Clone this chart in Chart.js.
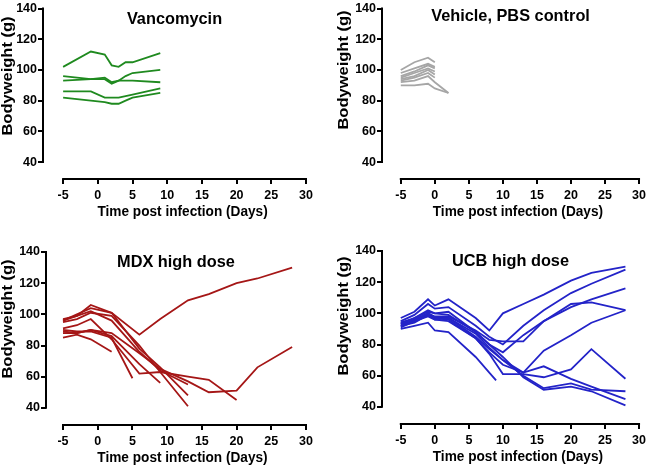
<!DOCTYPE html>
<html>
<head>
<meta charset="utf-8">
<script src="https://cdn.jsdelivr.net/npm/chart.js@4"></script>
<style>
  html, body { margin: 0; padding: 0; background: #fff; }
  #wrap { position: relative; width: 650px; height: 466px; }
  .panel { position: absolute; width: 325px; height: 233px; }
</style>
</head>
<body>
<div id="wrap">
  <div class="panel" style="left:0;top:0"><canvas id="c1" width="325" height="233"></canvas></div>
  <div class="panel" style="left:325px;top:0"><canvas id="c2" width="325" height="233"></canvas></div>
  <div class="panel" style="left:0;top:233px"><canvas id="c3" width="325" height="233"></canvas></div>
  <div class="panel" style="left:325px;top:233px"><canvas id="c4" width="325" height="233"></canvas></div>
</div>
<script>
const xTicks = [-5, 0, 5, 10, 15, 20, 25, 30];
const yTicks = [40, 60, 80, 100, 120, 140];

// Vancomycin group
const vancoDays = [-5, -1, 1, 2, 3, 4, 5, 9];
const vanco = [
  [102, 112, 110, 103, 102, 105, 105, 111],
  [96, 94, 94, 91, 93, 96, 98, 100],
  [93, 94, 95, 92, 93, 93, 93, 92],
  [86, 86, 82, 82, 82, 83, 84, 88],
  [82, 80, 79, 78, 78, 80, 82, 85]
];

// Vehicle, PBS control
const vehDays = [-5, -3, -1, 0, 2];
const vehicle = [
  [100, 105, 108, 105],
  [98, 101, 104, 102],
  [96, 99, 103, 101],
  [95, 98, 101, 99],
  [94, 96, 100, 97],
  [93, 95, 98, 95],
  [92, 93, 96, 92, 85],
  [90, 90, 91, 88, 85]
];

// MDX high dose
const mdxDays = [-5, -3, -1, 2, 5, 6, 9, 13, 16, 20, 23, 28];
const mdx = [
  [96, 99, 106, 101, null, 87, 97, 109, 113, 120, 123, 130],
  [89, 88, 90, 88, null, 75, 65, 57, 50, 51, 66, 79],
  [91, 93, 97, 84, null, 62, 63, 60, 58, 45],
  [95, 97, 101, 99, null, 80, 63, 41],
  [96, 100, 104, 101, null, 78, 66, 48],
  [97, 99, 102, 96, null, 76, 64, 55],
  [88, 88, 90, 86, null, 68, 56],
  [90, 89, 89, 85, 59],
  [85, 87, 84, 76]
];

// UCB high dose
const ucbDays = [-5, -3, -1, 0, 2, 6, 8, 9, 10, 13, 16, 20, 23, 28];
const ucb = [
  [97, 101, 109, 105, 109, 97, 89, null, 100, 106, 112, 121, 126, 130],
  [95, 99, 106, 103, 104, 92, 85, null, 80, 92, 102, 113, 119, 128],
  [93, 97, 101, 100, 101, 88, 80, null, 75, 86, 95, 104, 109, 116],
  [92, 96, 100, 98, 98, 89, 83, null, 82, 82, 95, 106, 107, 102],
  [91, 95, 99, 96, 97, 85, 77, null, 70, 62, 76, 86, 94, 102],
  [94, 96, 100, 97, 96, 84, 74, null, 61, 61, 59, 64, 77, 58],
  [90, 92, 94, 89, 88, 72, 62, 57],
  [93, 95, 98, 96, 95, 84, 75, null, 67, 62, 66, 58, 53, 45],
  [92, 94, 99, 97, 97, 87, 78, null, 70, 60, 52, 55, 51, 50],
  [94, 97, 102, 100, 99, 88, 80, null, 72, 59, 51, 53, 50, 41]
];

Chart.defaults.font.family = "'Liberation Sans', Arial, sans-serif";
Chart.defaults.font.weight = 'bold';
Chart.defaults.font.size = 12.5;
Chart.defaults.color = '#000';

// axes lines and texts drawn prism-style (detached axes)
const panelDecor = {
  id: 'panelDecor',
  afterDraw(chart, args, o) {
    const { ctx, chartArea: a, scales: { x, y } } = chart;
    ctx.save();
    ctx.strokeStyle = '#000';
    ctx.lineWidth = 2;
    ctx.beginPath();
    ctx.moveTo(x.getPixelForValue(-5) - 1, a.bottom);
    ctx.lineTo(x.getPixelForValue(30) + 1, a.bottom);
    ctx.moveTo(a.left, y.getPixelForValue(40) + 1);
    ctx.lineTo(a.left, y.getPixelForValue(140) - 1);
    ctx.stroke();

    ctx.fillStyle = '#000';
    ctx.textAlign = 'center';
    ctx.textBaseline = 'alphabetic';

    // panel title
    ctx.save();
    ctx.translate((a.left + a.right) / 2, o.titleY);
    ctx.scale(0.96, 1);
    ctx.font = "bold 17px 'Liberation Sans', Arial, sans-serif";
    ctx.fillText(o.title, 0, 0);
    ctx.restore();

    // x title
    ctx.save();
    ctx.translate(x.getPixelForValue(12.5) - 2, a.bottom + 36.5);
    ctx.scale(0.88, 1);
    ctx.font = "bold 15.5px 'Liberation Sans', Arial, sans-serif";
    ctx.fillText('Time post infection (Days)', 0, 0);
    ctx.restore();

    // y title
    ctx.save();
    ctx.translate(o.yTitleX, o.yTitleY);
    ctx.scale(0.9, 1);
    ctx.rotate(-Math.PI / 2);
    ctx.textBaseline = 'middle';
    ctx.font = "bold 16.5px 'Liberation Sans', Arial, sans-serif";
    ctx.fillText('Bodyweight (g)', 0, 0);
    ctx.restore();

    ctx.restore();
  }
};

function makePanel(id, days, series, color, L) {
  const datasets = series.map(vals => ({
    data: vals.map((v, i) => ({ x: days[i], y: v })),
    borderColor: color,
    borderWidth: 1.8,
    pointRadius: 0,
    fill: false,
    tension: 0,
    spanGaps: true
  }));
  new Chart(document.getElementById(id), {
    type: 'line',
    data: { datasets },
    plugins: [panelDecor],
    options: {
      responsive: false,
      animation: false,
      devicePixelRatio: 1,
      layout: { padding: { left: 0, right: L.right, top: L.top, bottom: L.bottom } },
      plugins: {
        legend: { display: false },
        tooltip: { enabled: false },
        panelDecor: { title: L.title, titleY: L.titleY, yTitleX: L.yTitleX, yTitleY: L.yTitleY }
      },
      scales: {
        x: {
          type: 'linear',
          min: L.xMin,
          max: 30,
          afterBuildTicks: s => { s.ticks = xTicks.map(v => ({ value: v })); },
          afterFit: s => { s.height = 24; },
          border: { display: false },
          grid: { drawOnChartArea: false, drawTicks: true, tickLength: 5, lineWidth: 2, color: '#000' },
          ticks: { padding: 4, maxRotation: 0, autoSkip: false }
        },
        y: {
          min: 29,
          max: 140,
          afterBuildTicks: s => { s.ticks = yTicks.map(v => ({ value: v })); },
          afterFit: s => { s.width = L.yWidth; },
          border: { display: false },
          grid: { drawOnChartArea: false, drawTicks: true, tickLength: 5, lineWidth: 2, color: '#000' },
          ticks: { padding: 1, autoSkip: false }
        }
      }
    }
  });
}

makePanel('c1', vancoDays, vanco, '#1f8a1f', {
  title: 'Vancomycin', titleY: 24, yTitleX: 8, yTitleY: 76,
  yWidth: 43, right: 19, top: 6, bottom: 30, xMin: -7.9
});
makePanel('c2', vehDays, vehicle, '#a6a6a6', {
  title: 'Vehicle, PBS control', titleY: 21, yTitleX: 19, yTitleY: 70,
  yWidth: 57, right: 8, top: 6, bottom: 30, xMin: -7.76
});
makePanel('c3', mdxDays, mdx, '#a51616', {
  title: 'MDX high dose', titleY: 34, yTitleX: 8, yTitleY: 86,
  yWidth: 46, right: 19, top: 19, bottom: 17, xMin: -7.45
});
makePanel('c4', ucbDays, ucb, '#2323c8', {
  title: 'UCB high dose', titleY: 33, yTitleX: 19, yTitleY: 83,
  yWidth: 57, right: 8, top: 18, bottom: 18, xMin: -7.76
});
</script>
</body>
</html>
